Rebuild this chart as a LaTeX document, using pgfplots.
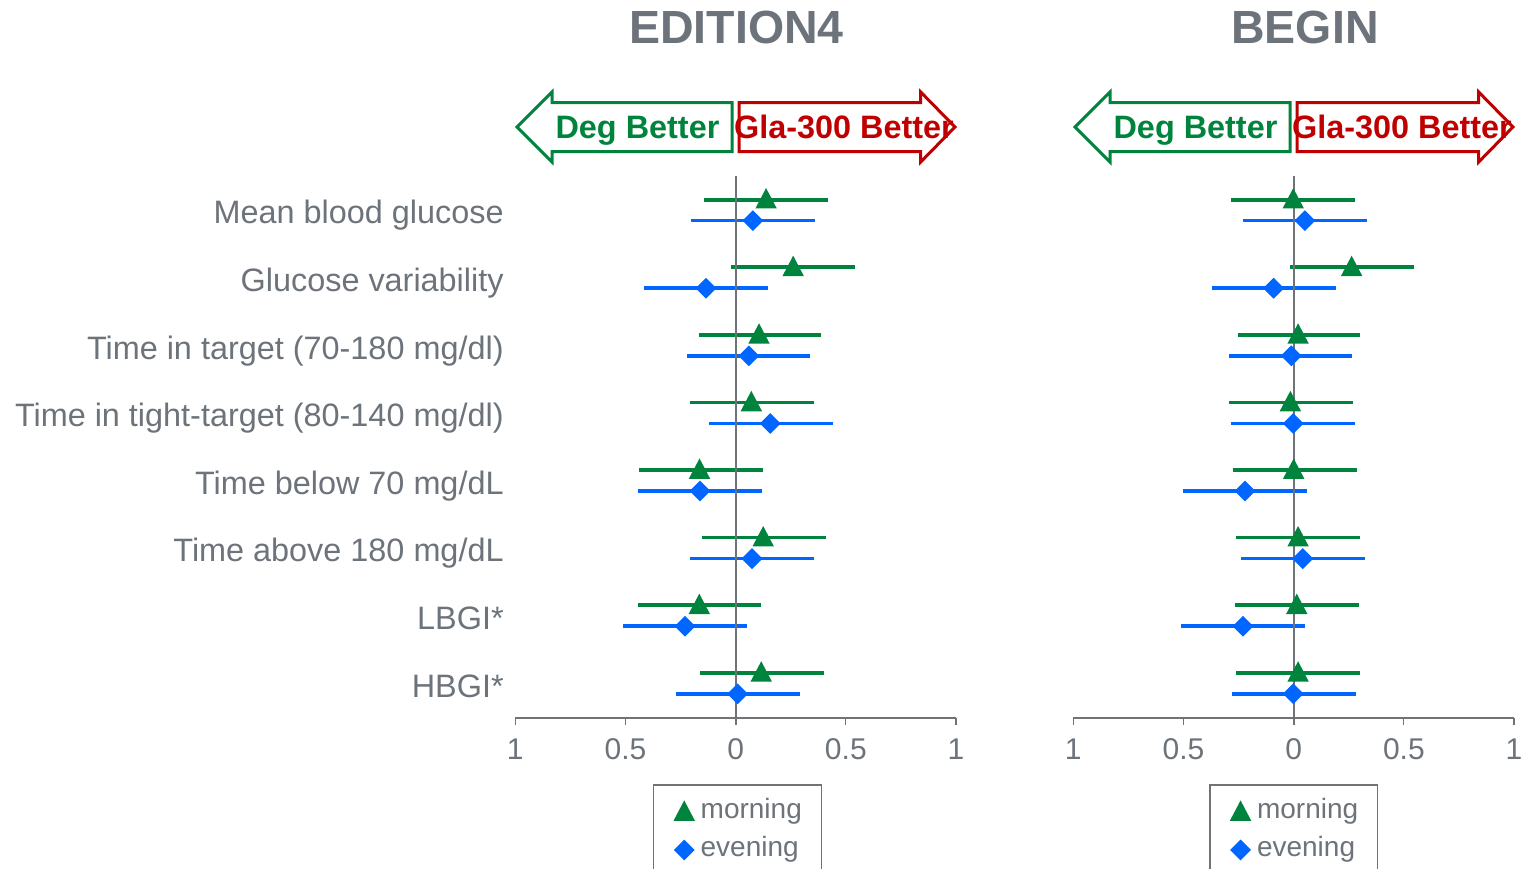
\documentclass[border=0pt]{standalone}
\usepackage{fontspec}
\setmainfont{Liberation Sans}
\usepackage{pgfplots}
\usepackage{pgfplotstable}
\pgfplotsset{compat=1.18}

\definecolor{txtgray}{RGB}{108,115,122}
\definecolor{axgray}{RGB}{110,115,120}
\definecolor{mgreen}{RGB}{0,132,61}
\definecolor{eblue}{RGB}{0,102,255}
\definecolor{gred}{RGB}{192,0,0}

% filled marks without outline
\pgfdeclareplotmark{tri}{%
  \pgfpathmoveto{\pgfqpoint{0pt}{1.14\pgfplotmarksize}}%
  \pgfpathlineto{\pgfqpoint{1.05\pgfplotmarksize}{-0.86\pgfplotmarksize}}%
  \pgfpathlineto{\pgfqpoint{-1.05\pgfplotmarksize}{-0.86\pgfplotmarksize}}%
  \pgfpathclose\pgfusepathqfill}
\pgfdeclareplotmark{dia}{%
  \pgfpathmoveto{\pgfqpoint{0pt}{\pgfplotmarksize}}%
  \pgfpathlineto{\pgfqpoint{\pgfplotmarksize}{0pt}}%
  \pgfpathlineto{\pgfqpoint{0pt}{-\pgfplotmarksize}}%
  \pgfpathlineto{\pgfqpoint{-\pgfplotmarksize}{0pt}}%
  \pgfpathclose\pgfusepathqfill}

% k = row (1 = top), est = estimate, lo/hi = confidence limits
\pgfplotstableread{
k est lo hi
1 0.138 -0.144 0.418
2 0.261 -0.021 0.541
3 0.106 -0.166 0.387
4 0.071 -0.208 0.354
5 -0.164 -0.439 0.122
6 0.125 -0.153 0.410
7 -0.165 -0.444 0.116
8 0.116 -0.162 0.400
}\edMorning
\pgfplotstableread{
k est lo hi
1 0.078 -0.203 0.360
2 -0.135 -0.416 0.145
3 0.060 -0.221 0.337
4 0.157 -0.121 0.440
5 -0.162 -0.444 0.118
6 0.074 -0.208 0.354
7 -0.230 -0.512 0.050
8 0.009 -0.271 0.290
}\edEvening
\pgfplotstableread{
k est lo hi
1 -0.002 -0.285 0.277
2 0.263 -0.017 0.545
3 0.020 -0.253 0.300
4 -0.015 -0.293 0.268
5 0.000 -0.275 0.286
6 0.020 -0.262 0.300
7 0.014 -0.266 0.295
8 0.020 -0.262 0.300
}\beMorning
\pgfplotstableread{
k est lo hi
1 0.051 -0.230 0.331
2 -0.091 -0.371 0.190
3 -0.011 -0.293 0.263
4 -0.002 -0.285 0.277
5 -0.221 -0.502 0.059
6 0.041 -0.239 0.322
7 -0.230 -0.511 0.050
8 -0.002 -0.280 0.282
}\beEvening

\pgfplotsset{
  forest/.style={
    scale only axis, width=220.35bp, height=271bp,
    xmin=-1, xmax=1, ymin=0.494, ymax=8.513, y dir=reverse,
    clip=false,
    axis x line*=bottom, axis y line*=left,
    x axis line style={-, draw=axgray, line width=0.75bp},
    y axis line style={draw=none},
    xtick={-1,-0.5,0,0.5,1}, xticklabels={1,0.5,0,0.5,1},
    tick align=outside, major tick length=3.5bp,
    xtick style={draw=axgray, line width=0.6bp},
    ytick style={draw=none},
    xticklabel style={font=\fontsize{15bp}{17bp}\selectfont, text=txtgray, yshift=-3.5bp},
    yticklabel style={font=\fontsize{16.2bp}{19bp}\selectfont, text=txtgray,
      anchor=base east, inner sep=0pt, xshift=-2.15bp, yshift=-6.9bp},
    legend style={anchor=north west, draw=axgray, line width=0.75bp,
      font=\fontsize{14bp}{16bp}\selectfont, text=txtgray,
      inner xsep=9.75bp, inner ysep=6.25bp, row sep=4.95bp,
      /tikz/every odd column/.append style={column sep=2.6bp},
      nodes={inner sep=0pt, text height=10.5bp, text depth=3.5bp}},
    legend cell align=left,
    legend image code/.code={%
      \path (-5.25bp,0bp) (5.25bp,0bp);
      \path[##1] plot coordinates {(0bp,-0.25bp)};},
  },
  cibar/.style={forget plot, draw=none, mark=none,
    error bars/.cd, x dir=both, x explicit, error mark=none,
    error bar style={draw=#1, line width=1.8bp}},
}

\newcommand{\forestplots}[2]{%
  \addplot[cibar=mgreen] table[x=est, y expr=\thisrow{k}-0.155,
    x error plus expr=\thisrow{hi}-\thisrow{est},
    x error minus expr=\thisrow{est}-\thisrow{lo}] {#1};
  \addplot[cibar=eblue] table[x=est, y expr=\thisrow{k}+0.155,
    x error plus expr=\thisrow{hi}-\thisrow{est},
    x error minus expr=\thisrow{est}-\thisrow{lo}] {#2};
  \draw[axgray, line width=1bp] (axis cs:0,0.494) -- ([yshift=-3.5bp]axis cs:0,8.513);
  \addplot[only marks, mark=tri, mark size=5.1bp, color=mgreen, fill=mgreen]
    table[x=est, y expr=\thisrow{k}-0.155] {#1};
  \addlegendentry{morning}
  \addplot[only marks, mark=dia, mark size=5.2bp, color=eblue, fill=eblue]
    table[x=est, y expr=\thisrow{k}+0.155] {#2};
  \addlegendentry{evening}
}

\begin{document}
\begin{tikzpicture}[x=0.5bp, y=0.5bp]

\begin{axis}[forest, at={(257.65bp,75bp)}, anchor=south west,
  ytick={1,...,8},
  yticklabels={Mean blood glucose, Glucose variability,
    Time in target (70-180 mg/dl), Time in tight-target (80-140 mg/dl),
    Time below 70 mg/dL, Time above 180 mg/dL, LBGI*, HBGI*},
  legend style={at={(0.3118,-0.1223)}}]
  \forestplots{\edMorning}{\edEvening}
\end{axis}

\begin{axis}[forest, at={(536.65bp,75bp)}, anchor=south west,
  ytick=\empty,
  legend style={at={(0.308,-0.1223)}}]
  \forestplots{\beMorning}{\beEvening}
\end{axis}

% panel titles
\node[anchor=base, text=txtgray, font=\fontsize{23.25bp}{26bp}\selectfont\bfseries] at (736.5,824) {EDITION4};
\node[anchor=base, text=txtgray, font=\fontsize{23.25bp}{26bp}\selectfont\bfseries] at (1305,824) {BEGIN};

% direction arrows
\foreach \dx in {0,558} {
  \begin{scope}[xshift=\dx*0.5bp]
    \draw[mgreen, line width=1.5bp, fill=white] (517,741) -- (552,776) -- (552,765.3) -- (732,765.3)
      -- (732,716.3) -- (552,716.3) -- (552,706) -- cycle;
    \draw[gred, line width=1.5bp, fill=white] (739,765.3) -- (920.7,765.3) -- (920.7,776) -- (955,741)
      -- (920.7,706) -- (920.7,716.3) -- (739,716.3) -- cycle;
    \node[anchor=base, text=mgreen, font=\fontsize{16.2bp}{18bp}\selectfont\bfseries] at (637.5,729.7) {Deg Better};
    \node[anchor=base, text=gred, font=\fontsize{16.2bp}{18bp}\selectfont\bfseries] at (844,729.7) {Gla-300 Better};
  \end{scope}
}

\pgfresetboundingbox
\path[use as bounding box] (0,0) rectangle (1523,868);
\end{tikzpicture}
\end{document}
